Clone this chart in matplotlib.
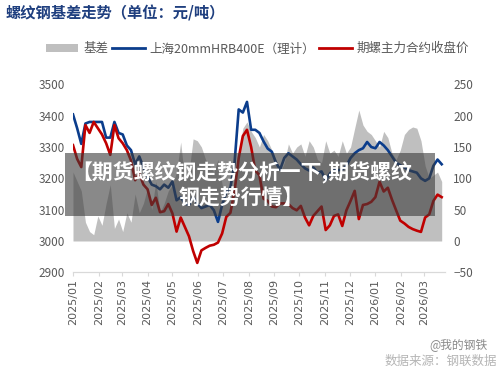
import numpy as np
import pandas as pd
import matplotlib
matplotlib.use("Agg")
import matplotlib.pyplot as plt
import matplotlib.dates as mdates
from matplotlib.patches import Rectangle, Patch
from matplotlib.lines import Line2D

plt.rcParams["font.family"] = ["Noto Sans CJK SC", "DejaVu Sans"]

# data (one value every 5 days from 2025-01-01)
dates = pd.date_range("2025-01-01", periods=90, freq="5D")

spot = [3404, 3360, 3310, 3375, 3380, 3380, 3380, 3380, 3330, 3330,
        3380, 3345, 3340, 3305, 3290, 3245, 3270, 3235, 3205, 3180,
        3175, 3165, 3180, 3170, 3190, 3130, 3140, 3120, 3115, 3140,
        3120, 3105, 3110, 3115, 3098, 3061, 3115, 3155, 3170, 3250,
        3420, 3410, 3444, 3355, 3355, 3345, 3318, 3295, 3285, 3250,
        3228, 3265, 3280, 3270, 3260, 3245, 3232, 3225, 3235, 3218,
        3222, 3194, 3215, 3228, 3226, 3228, 3240, 3265, 3280, 3290,
        3296, 3316, 3300, 3296, 3316, 3305, 3290, 3270, 3250, 3242,
        3235, 3226, 3222, 3218, 3200, 3192, 3200, 3240, 3260, 3245]

futures = [3306, 3262, 3236, 3370, 3345, 3380, 3360, 3340, 3312, 3275,
           3370, 3328, 3312, 3290, 3257, 3194, 3215, 3180, 3165, 3115,
           3138, 3092, 3095, 3118, 3088, 3030, 3075, 3045, 3015, 2968,
           2930, 2970, 2978, 2985, 2988, 2995, 3024, 3077, 3090, 3160,
           3265, 3335, 3355, 3300, 3225, 3210, 3135, 3128, 3110, 3108,
           3120, 3120, 3118, 3105, 3098, 3112, 3075, 3050, 3080, 3095,
           3110, 3035, 3050, 3080, 3085, 3048, 3098, 3128, 3160, 3070,
           3115, 3118, 3125, 3140, 3189, 3158, 3170, 3132, 3098, 3065,
           3056, 3045, 3038, 3033, 3029, 3075, 3085, 3128, 3148, 3140]

basis = [110, 95, 80, 30, 15, 10, 40, 25, 60, 90,
         20, 35, 15, 45, 30, 75, 45, 60, 85, 50,
         95, 45, 60, 80, 90, 110, 158, 95, 110, 163,
         160, 150, 130, 120, 110, 130, 90, 60, 70, 85,
         140, 180, 190, 175, 165, 150, 170, 160, 145, 130,
         110, 125, 155, 140, 150, 155, 135, 160, 150, 130,
         125, 160, 140, 145, 135, 160, 140, 150, 180, 209,
         185, 175, 170, 160, 150, 175, 165, 140, 130, 145,
         170, 178, 182, 180, 160, 120, 100, 105, 110, 95]

tick_dates = pd.date_range("2025-01-01", "2026-03-01", freq="MS")
tick_labels = [d.strftime("%Y/%m") for d in tick_dates]

label_color = "#595959"
axis_color = "#d9d9d9"

fig = plt.figure(figsize=(5, 3.7), dpi=100)
ax = fig.add_axes([0.146, 0.264, 0.744, 0.508])
ax2 = ax.twinx()

# basis area on right axis, price lines on left axis
ax2.fill_between(dates, 0, basis, color="#bfbfbf", linewidth=0, zorder=1)
ax.set_zorder(ax2.get_zorder() + 1)
ax.patch.set_visible(False)
ax.plot(dates, spot, color="#0b3d8c", linewidth=1.9, zorder=3)
ax.plot(dates, futures, color="#c00000", linewidth=1.9, zorder=4)

ax.set_xlim(pd.Timestamp("2025-01-01"), pd.Timestamp("2026-03-26"))
ax.set_ylim(2900, 3500)
ax2.set_ylim(-50, 250)
ax.set_yticks(range(2900, 3501, 100))
ax2.set_yticks(range(-50, 251, 50))

ax.set_xticks(tick_dates)
ax.set_xticklabels(tick_labels, rotation=90, fontsize=8, color=label_color,
                   family=["DejaVu Sans"])

for a in (ax, ax2):
    for s in ("top", "right", "left"):
        a.spines[s].set_visible(False)
    a.spines["bottom"].set_color(axis_color)
    a.tick_params(axis="y", length=0, labelsize=8.5, labelcolor=label_color, pad=6)
ax.tick_params(axis="x", length=3, color=axis_color, pad=2)

# title
fig.text(0.012, 0.965, "螺纹钢基差走势（单位：元/吨）", fontsize=11, fontweight="bold",
         color="#1f3f7f", ha="left", va="center")

# legend
handles = [Patch(facecolor="#bfbfbf", edgecolor="none"),
           Line2D([], [], color="#0b3d8c", linewidth=2),
           Line2D([], [], color="#c00000", linewidth=2)]
labels = ["基差", "上海20mmHRB400E（理计）", "期螺主力合约收盘价"]
leg = fig.legend(handles, labels, loc="center", bbox_to_anchor=(0.515, 0.868), ncol=3,
                 frameon=False, fontsize=9, handlelength=2.6, handletextpad=0.4,
                 columnspacing=0.3)
for t in leg.get_texts():
    t.set_color(label_color)

# overlay headline box
fig.patches.append(Rectangle((0.129, 1 - 215.7 / 370), 0.741, 63 / 370,
                             transform=fig.transFigure, facecolor="#3a3a3a",
                             alpha=0.6, edgecolor="none", zorder=10))
fig.text(0.483, 1 - 172 / 370, "【期货螺纹钢走势分析一下,期货螺纹", fontsize=15,
         fontweight="bold", color="white", ha="center", va="center", zorder=11)
fig.text(0.483, 1 - 198 / 370, "钢走势行情】", fontsize=15,
         fontweight="bold", color="white", ha="center", va="center", zorder=11)

# source watermark
fig.text(0.995, 1 - 361 / 370, "数据来源：钢联数据", fontsize=9, color="#b5b5b5",
         ha="right", va="center")
fig.text(0.975, 1 - 346 / 370, "@我的钢铁", fontsize=8.5, color="#8a8a8a",
         ha="right", va="center")

fig.savefig("out.png", dpi=100)
